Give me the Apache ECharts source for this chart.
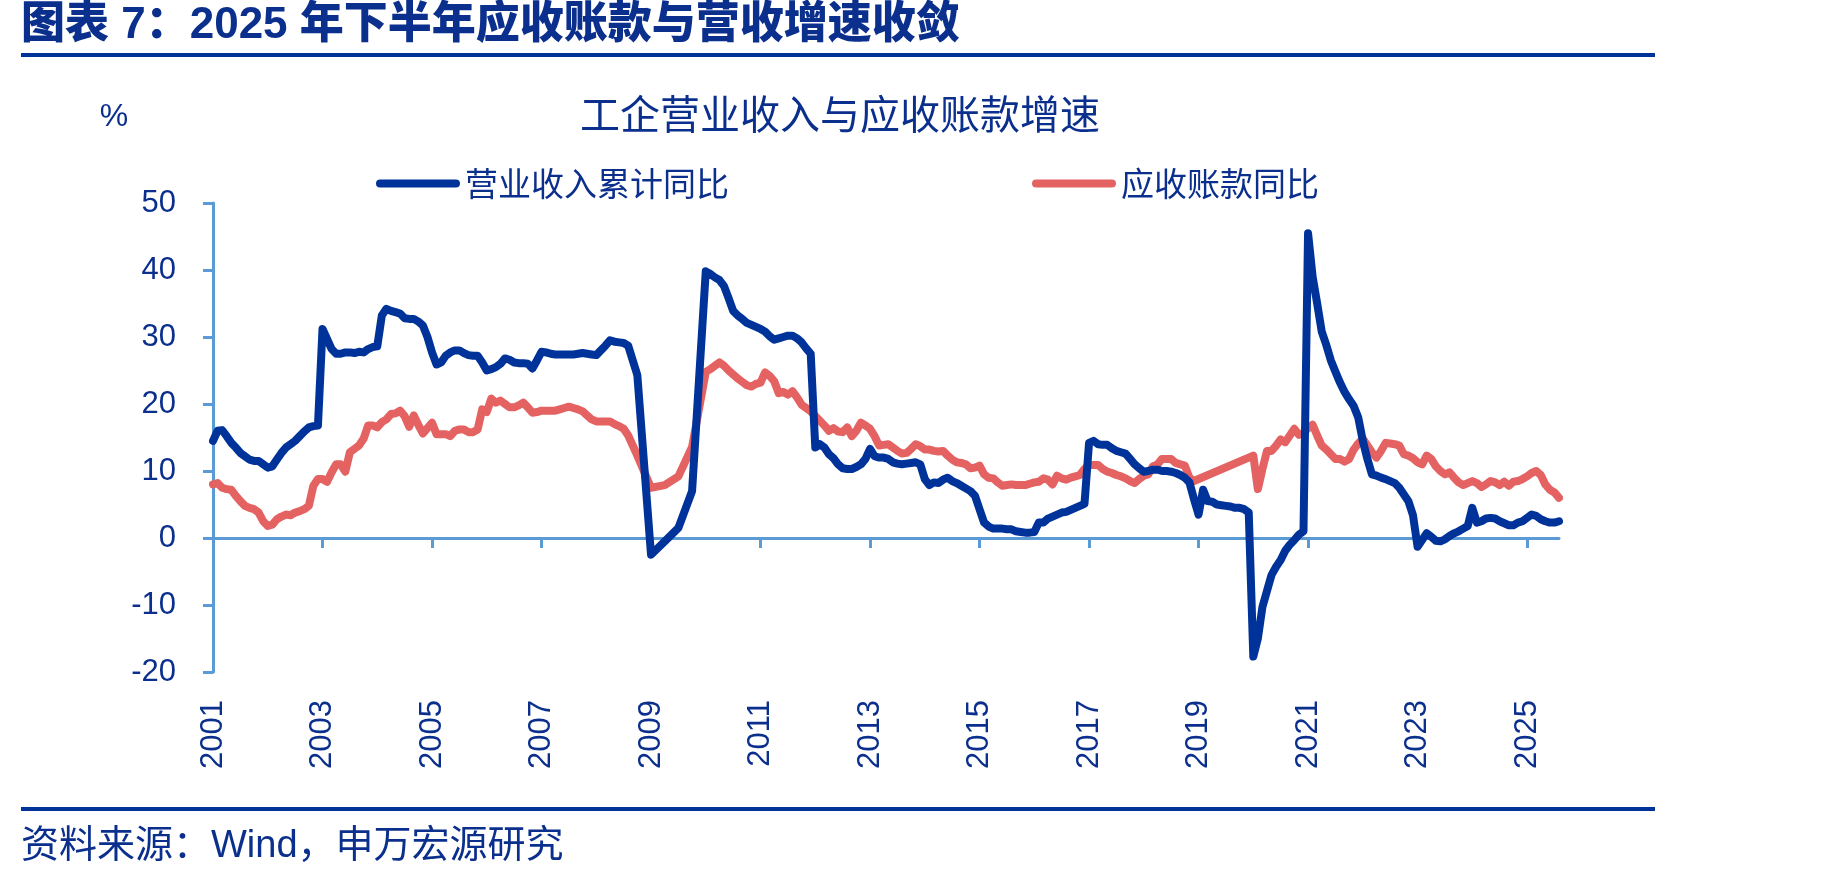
<!DOCTYPE html>
<html>
<head>
<meta charset="utf-8">
<script src="https://cdn.jsdelivr.net/npm/echarts@6/dist/echarts.min.js"></script>
<style>
  html, body { margin: 0; padding: 0; background: #fff; }
  #chart { width: 1838px; height: 885px; }
</style>
</head>
<body>
<div id="chart"></div>
<script>
// 月度数据：2001-01 ~ 2025-08，null 为缺失月份
const startYear = 2001;
const seriesNames = ['营业收入累计同比', '应收账款同比'];

// 营业收入累计同比（%）
const revenueYoy = [
  14.5, 16.0, 16.1, 15.2, 14.2, 13.5, 12.7, 12.2, 11.7, 11.5, 11.5, 11.0, // 2001
  10.5, 10.7, 11.7, 12.7, 13.5, 14.0, 14.5, 15.2, 15.9, 16.5, 16.7, 16.8, // 2002
  31.2, 29.7, 28.2, 27.5, 27.5, 27.7, 27.7, 27.6, 27.8, 27.7, 28.2, 28.5, // 2003
  28.6, 33.2, 34.2, 33.9, 33.7, 33.5, 32.8, 32.7, 32.7, 32.3, 31.7, 30.0, // 2004
  27.7, 25.9, 26.2, 27.2, 27.7, 28.0, 28.0, 27.6, 27.3, 27.2, 27.2, 26.2, // 2005
  25.0, 25.2, 25.5, 26.0, 26.8, 26.6, 26.2, 26.1, 26.1, 26.0, 25.3, 26.5, // 2006
  27.8, 27.7, 27.5, 27.4, 27.4, 27.4, 27.4, 27.4, 27.5, 27.6, 27.5, 27.4, // 2007
  27.3, 28.0, 28.7, 29.5, 29.3, 29.2, 29.1, 28.7, null, 24.3, null, null, // 2008
  -2.5, null, null, -0.5, null, null, 1.5, null, null, 7.0, null, null,   // 2009
  39.8, 39.4, 38.9, 38.5, 37.6, 35.8, 33.9, 33.2, 32.7, 32.1, 31.8, 31.5, // 2010
  31.2, 30.8, 30.1, 29.6, 29.8, 30.0, 30.2, 30.2, 29.8, 29.2, 28.3, 27.5, // 2011
  13.5, 14.0, 13.5, 12.5, 11.9, 11.0, 10.4, 10.3, 10.3, 10.6, 11.0, 11.8, // 2012
  13.3, 12.2, 12.0, 12.0, 11.8, 11.3, 11.1, 11.0, 11.1, 11.2, 11.3, 11.0, // 2013
  8.8, 7.9, 8.3, 8.2, 8.7, 9.0, 8.5, 8.2, 7.8, 7.4, 7.0, 6.3,             // 2014
  4.3, 2.3, 1.7, 1.4, 1.4, 1.4, 1.3, 1.3, 1.0, 0.9, 0.8, 0.8,             // 2015
  0.9, 2.3, 2.3, 2.9, 3.2, 3.5, 3.8, 3.9, 4.2, 4.5, 4.8, 5.1,             // 2016
  14.2, 14.5, 14.0, 13.9, 13.9, 13.4, 13.0, 12.8, 12.6, 11.8, 11.0, 10.4, // 2017
  9.9, 10.0, 10.2, 10.2, 10.0, 10.0, 9.9, 9.7, 9.4, 9.0, 8.3, 5.8,        // 2018
  3.5, 7.2, 5.5, 5.4, 5.0, 4.9, 4.8, 4.7, 4.5, 4.5, 4.3, 3.8,             // 2019
  -17.7, -15.0, -10.3, -7.9, -5.5, -4.3, -3.3, -1.9, -1.0, -0.3, 0.5, 1.0, // 2020
  45.5, 39.0, 35.0, 30.8, 28.8, 26.5, 24.8, 23.2, 21.8, 20.7, 19.7, 18.0, // 2021
  14.5, 11.8, 9.5, 9.3, 9.0, 8.8, 8.5, 8.2, 7.5, 6.5, 5.5, 3.4,           // 2022
  -1.3, -0.3, 0.7, 0.2, -0.4, -0.5, -0.2, 0.3, 0.7, 1.0, 1.4, 1.8,        // 2023
  4.5, 2.3, 2.5, 2.9, 3.0, 2.9, 2.5, 2.2, 1.9, 1.9, 2.3, 2.5,             // 2024
  3.0, 3.5, 3.3, 2.8, 2.5, 2.3, 2.3, 2.5                                  // 2025
];

// 应收账款同比（%）
const receivableYoy = [
  8.0, 8.2, 7.5, 7.3, 7.2, 6.3, 5.5, 4.8, 4.5, 4.3, 3.8, 2.5,             // 2001
  1.8, 2.0, 2.8, 3.2, 3.5, 3.4, 3.8, 4.0, 4.3, 4.8, 7.8, 8.8,             // 2002
  8.8, 8.4, 9.8, 11.0, 11.0, 9.9, 12.8, 13.3, 13.8, 14.8, 16.8, 16.8,     // 2003
  16.5, 17.3, 17.7, 18.5, 18.6, 19.0, 18.2, 16.6, 18.3, 16.9, 15.6, 16.4, // 2004
  17.2, 15.5, 15.5, 15.5, 15.2, 16.0, 16.2, 16.2, 15.8, 15.8, 16.2, 19.2, // 2005
  18.8, 20.8, 20.2, 20.5, 20.0, 19.5, 19.5, 19.8, 20.2, 19.5, 18.7, 18.8, // 2006
  19.0, 19.0, 19.0, 19.0, 19.2, 19.4, 19.6, 19.4, 19.2, 18.9, 18.3, 17.7, // 2007
  17.4, 17.4, 17.4, 17.4, 17.0, 16.7, 16.3, 15.3, null, 12.3, null, null, // 2008
  7.5, null, null, 7.9, null, null, 9.2, null, null, 13.6, null, null,    // 2009
  24.8, 25.2, 25.7, 26.2, 25.7, 25.0, 24.4, 23.8, 23.3, 22.8, 22.6, 23.0, // 2010
  23.2, 24.7, 24.2, 23.4, 21.6, 21.8, 21.4, 21.9, 21.0, 19.9, 19.4, 18.9, // 2011
  18.2, 17.5, 16.8, 16.0, 16.4, 15.9, 15.8, 16.5, 15.2, 16.0, 17.2, 16.8, // 2012
  16.3, 15.2, 13.8, 13.9, 14.0, 13.5, 13.0, 12.6, 12.7, 13.3, 14.0, 13.7, // 2013
  13.2, 13.2, 13.0, 12.9, 13.0, 12.3, 11.7, 11.3, 11.2, 11.0, 10.4, 10.5, // 2014
  10.8, 9.5, 9.0, 8.9, 8.3, 7.8, 7.9, 8.0, 7.9, 7.9, 7.9, 8.1,            // 2015
  8.3, 8.4, 8.9, 8.7, 8.0, 9.3, 8.9, 8.7, 9.0, 9.2, 9.4, 10.3,            // 2016
  10.9, 10.9, 10.9, 10.3, 9.9, 9.7, 9.4, 9.2, 8.9, 8.5, 8.2, 8.8,         // 2017
  9.3, 9.5, 10.7, 11.0, 11.8, 11.8, 11.8, 11.2, 11.0, 10.8, 9.0, 8.5,     // 2018
  null, null, null, null, null, null, null, null, null, null, null, null, // 2019
  12.3, 7.3, 10.3, 13.0, 13.0, 13.8, 14.7, 14.3, 15.3, 16.3, 15.4, 15.7,  // 2020
  16.4, 16.9, 15.3, 13.8, 13.2, 12.5, 11.8, 11.8, 11.4, 11.8, 13.2, 14.1, // 2021
  14.8, 13.8, 12.8, 12.0, 13.0, 14.2, 14.1, 14.0, 13.8, 12.5, 12.3, 11.9, // 2022
  11.3, 11.0, 12.3, 11.8, 10.7, 10.0, 9.5, 9.8, 9.0, 8.3, 7.9, 8.2,       // 2023
  8.5, 8.2, 7.6, 8.0, 8.5, 8.3, 7.9, 8.4, 7.8, 8.4, 8.5, 8.8,             // 2024
  9.2, 9.7, 10.0, 9.4, 8.0, 7.2, 6.8, 6.0                                 // 2025
];

const months = revenueYoy.map((v, i) => {
  const y = startYear + Math.floor(i / 12);
  const m = (i % 12) + 1;
  return y + '-' + (m < 10 ? '0' + m : m);
});

const navy = '#0b2f8c';
const blue = '#00339a';
const red = '#e46262';
const axisBlue = '#5b9bd5';
const latin = '"Liberation Sans", "Noto Sans CJK SC", sans-serif';
const cjk = '"Noto Sans CJK SC", sans-serif';

const everyTwoYears = (index) => index % 24 === 0;
const capsule = 'path://M4,0 L78,0 A4,4 0 0 1 78,8 L4,8 A4,4 0 0 1 4,0 Z';

const chart = echarts.init(document.getElementById('chart'));

chart.setOption({
  animation: false,
  backgroundColor: '#fff',
  grid: {
    left: 213,
    top: 203,
    width: 1346,
    height: 469,
  },
  legend: {
    data: seriesNames,
    left: 371,
    top: 162,
    icon: capsule,
    itemWidth: 84,
    itemHeight: 9,
    itemGap: 303,
    textStyle: {
      fontFamily: cjk,
      fontSize: 33,
      color: navy,
    },
  },
  xAxis: [{
    type: 'category',
    position: 'bottom',
    data: months,
    boundaryGap: false,
    axisLine: {
      onZero: true,
      lineStyle: { color: axisBlue, width: 3 },
    },
    axisTick: {
      interval: everyTwoYears,
      length: 10,
      lineStyle: { color: axisBlue, width: 3 },
    },
    axisLabel: { show: false },
    splitLine: { show: false },
  }, {
    type: 'category',
    position: 'bottom',
    data: months,
    boundaryGap: false,
    axisLine: { show: false, onZero: false },
    axisTick: { show: false },
    axisLabel: {
      interval: everyTwoYears,
      rotate: 90,
      margin: 28,
      fontFamily: latin,
      fontSize: 31,
      color: navy,
      formatter: (v) => v.slice(0, 4),
    },
    splitLine: { show: false },
  }],
  yAxis: {
    type: 'value',
    min: -20,
    max: 50,
    interval: 10,
    axisLine: {
      show: true,
      lineStyle: { color: axisBlue, width: 3 },
    },
    axisTick: {
      show: true,
      length: 10,
      lineStyle: { color: axisBlue, width: 3 },
    },
    axisLabel: {
      margin: 37,
      fontFamily: latin,
      fontSize: 31,
      color: navy,
    },
    splitLine: { show: false },
  },
  series: [{
    name: seriesNames[0],
    type: 'line',
    data: revenueYoy,
    symbol: 'none',
    connectNulls: true,
    color: blue,
    lineStyle: { width: 8, color: blue, cap: 'round', join: 'round' },
    z: 3,
  }, {
    name: seriesNames[1],
    type: 'line',
    data: receivableYoy,
    symbol: 'none',
    connectNulls: true,
    color: red,
    lineStyle: { width: 8, color: red, cap: 'round', join: 'round' },
    z: 2,
  }],
  graphic: [{
    type: 'text',
    left: 21,
    top: 4,
    style: {
      text: '图表 7：2025 年下半年应收账款与营收增速收敛',
      fill: navy,
      font: '900 44px ' + latin,
    },
  }, {
    type: 'rect',
    shape: { x: 21, y: 53, width: 1634, height: 4 },
    style: { fill: blue },
  }, {
    type: 'text',
    x: 840,
    y: 114,
    style: {
      text: '工企营业收入与应收账款增速',
      fill: navy,
      font: '40px ' + cjk,
      textAlign: 'center',
      textVerticalAlign: 'middle',
    },
  }, {
    type: 'text',
    x: 114,
    y: 117,
    style: {
      text: '%',
      fill: navy,
      font: '32px ' + latin,
      textAlign: 'center',
      textVerticalAlign: 'middle',
    },
  }, {
    type: 'rect',
    shape: { x: 21, y: 807, width: 1634, height: 4 },
    style: { fill: blue },
  }, {
    type: 'text',
    x: 21,
    y: 847,
    style: {
      text: '资料来源：Wind，申万宏源研究',
      fill: navy,
      font: '38px ' + latin,
      textVerticalAlign: 'middle',
    },
  }],
});
</script>
</body>
</html>
